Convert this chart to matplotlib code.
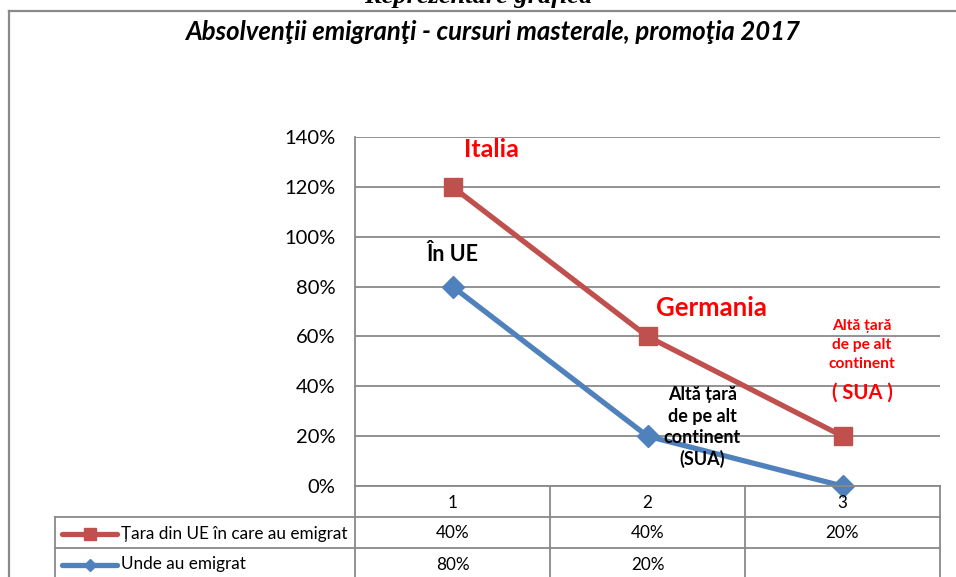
import matplotlib
matplotlib.use('Agg')
import matplotlib.pyplot as plt
import matplotlib.transforms as mtransforms
from matplotlib.lines import Line2D

# date
categorii = ['1', '2', '3']
tara_ue = [40, 40, 20]          # seria stivuita (rosu)
unde_emigrat = [80, 20, 0]      # seria de baza (albastru)
unde_emigrat_tabel = ['80%', '20%', '']
tara_ue_tabel = ['40%', '40%', '20%']
serii = ['Țara din UE în care au emigrat', 'Unde au emigrat']
yticks = [0, 20, 40, 60, 80, 100, 120, 140]

rosu = '#C0504D'
albastru = '#4F81BD'
gri = '#898989'
font = 'Lato'

W, H = 956, 577
fig = plt.figure(figsize=(W / 100, H / 100), dpi=100)

def fx(px):
    return px / W

def fy(py):
    return 1 - py / H

# chenarul graficului
fig.add_artist(Line2D([fx(9), fx(9)], [fy(11), 0], color=gri, lw=1.6))
fig.add_artist(Line2D([fx(9), 1], [fy(11), fy(11)], color=gri, lw=1.6))

fig.text(0.5, fy(-4), 'Reprezentare grafică', ha='center', va='center',
         family='Liberation Serif', fontsize=19, fontweight='bold', fontstyle='italic')
fig.text(fx(492), fy(32), 'Absolvenţii emigranţi - cursuri masterale, promoţia 2017',
         ha='center', va='center', family=font, fontsize=18.5,
         fontweight='bold', fontstyle='italic')

left, right, top, bottom = 355, 940, 137, 486
ax = fig.add_axes([fx(left), fy(bottom), fx(right - left), (bottom - top) / H])

x = [1, 2, 3]
stivuit = [a + b for a, b in zip(unde_emigrat, tara_ue)]
ax.plot(x, stivuit, color=rosu, lw=3.8, marker='s', markersize=13, zorder=3)
ax.plot(x, unde_emigrat, color=albastru, lw=3.8, marker='D', markersize=11, zorder=3,
        clip_on=False)

ax.set_xlim(0.5, 3.5)
ax.set_ylim(0, 140)
ax.set_yticks(yticks)
ax.set_yticklabels([f'{v}%' for v in yticks], family=font, fontsize=14.5)
ax.set_xticks([])
ax.tick_params(axis='y', length=0, pad=14)
ax.grid(axis='y', color=gri, lw=1.3)
ax.set_axisbelow(True)
for s in ['top', 'right', 'bottom']:
    ax.spines[s].set_visible(False)
ax.spines['left'].set_color(gri)
ax.spines['left'].set_linewidth(1.3)

# etichete
ax.text(1.2, 135, 'Italia', color='#FF0000', fontsize=18, fontweight='bold',
        family=font, ha='center', va='center')
ax.text(1.0, 93, 'În UE', color='black', fontsize=15.5, fontweight='bold',
        family=font, ha='center', va='center')
ax.text(2.33, 71.5, 'Germania', color='#FF0000', fontsize=18.5, fontweight='bold',
        family=font, ha='center', va='center')
ax.text(3.1, 56.5, 'Altă țară\nde pe alt\ncontinent', color='#FF0000', fontsize=11.2,
        fontweight='bold', family=font, ha='center', va='center', linespacing=1.45)
ax.text(3.1, 37.5, '( SUA )', color='#FF0000', fontsize=14.5,
        fontweight='bold', family=font, ha='center', va='center')
ax.text(2.28, 23.5, 'Altă țară\nde pe alt\ncontinent\n(SUA)', color='black', fontsize=13,
        fontweight='bold', family=font, ha='center', va='center', linespacing=1.3)

# tabel de date
row_h = 31
rows_y = [bottom, bottom + row_h, bottom + 2 * row_h]
col_x = [355, 550, 745, 940]
kw = dict(color=gri, lw=1.3)
for y in rows_y:
    x0 = 55 if y > bottom else 355
    fig.add_artist(Line2D([fx(x0), fx(940)], [fy(y), fy(y)], **kw))
for cx in col_x:
    fig.add_artist(Line2D([fx(cx), fx(cx)], [fy(bottom), fy(H + 5)], **kw))
fig.add_artist(Line2D([fx(55), fx(55)], [fy(bottom + row_h), fy(H + 5)], **kw))

trans = mtransforms.blended_transform_factory(ax.transData, fig.transFigure)
for i, c in enumerate(categorii):
    fig.text(x[i], fy(bottom + row_h / 2 + 1), c, transform=trans, ha='center',
             va='center', family=font, fontsize=12.3)
    fig.text(x[i], fy(bottom + 1.5 * row_h + 1), tara_ue_tabel[i], transform=trans,
             ha='center', va='center', family=font, fontsize=12.3)
    fig.text(x[i], fy(bottom + 2.5 * row_h + 1), unde_emigrat_tabel[i], transform=trans,
             ha='center', va='center', family=font, fontsize=12.3)

for j, (nume, col, mk, ms) in enumerate([(serii[0], rosu, 's', 8), (serii[1], albastru, 'D', 6)]):
    yy = fy(bottom + (1.5 + j) * row_h + 1)
    fig.add_artist(Line2D([fx(62), fx(117)], [yy, yy], color=col, lw=3.8,
                          solid_capstyle='round'))
    fig.add_artist(Line2D([fx(90)], [yy], color=col, marker=mk, markersize=ms))
    fig.text(fx(121), yy, nume, ha='left', va='center', family=font, fontsize=12.3)

fig.savefig('out.png', dpi=100)
